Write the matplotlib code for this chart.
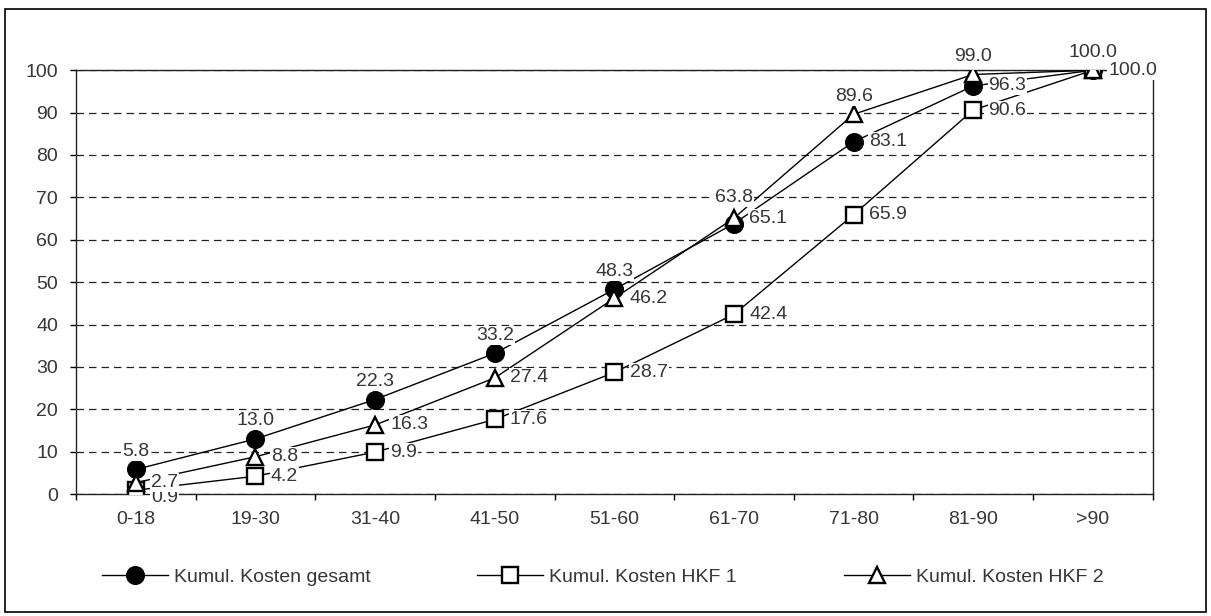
import matplotlib.pyplot as plt
from matplotlib.patches import Rectangle

plt.rcParams['font.family'] = ['Liberation Sans', 'DejaVu Sans']

categories = ["0-18", "19-30", "31-40", "41-50", "51-60", "61-70", "71-80", "81-90", ">90"]
gesamt = [5.8, 13.0, 22.3, 33.2, 48.3, 63.8, 83.1, 96.3, 100.0]
hkf1 = [0.9, 4.2, 9.9, 17.6, 28.7, 42.4, 65.9, 90.6, 100.0]
hkf2 = [2.7, 8.8, 16.3, 27.4, 46.2, 65.1, 89.6, 99.0, 100.0]

# where each value label sits: "a" = above the marker, "r" = right of it
pos_gesamt = ["a", "a", "a", "a", "a", "a", "r", "r", "a"]
pos_hkf1 = ["r"] * 9
pos_hkf2 = ["r", "r", "r", "r", "r", "r", "a", "a", "a"]

# small vertical nudges (points) for crowded labels
nudge = {("Kumul. Kosten gesamt", 5): 6, ("Kumul. Kosten HKF 1", 0): -5}

txt = "#363636"
fs = 14

fig = plt.figure(figsize=(12.11, 6.16), dpi=100)
ax = fig.add_axes([0.0628, 0.198, 0.889, 0.688])
fig.add_artist(Rectangle((0.004, 0.006), 0.992, 0.979, transform=fig.transFigure,
                         fill=False, edgecolor="black", linewidth=1.2))

x = list(range(len(categories)))
series = [
    ("Kumul. Kosten gesamt", gesamt, pos_gesamt, dict(marker="o", markerfacecolor="black")),
    ("Kumul. Kosten HKF 1", hkf1, pos_hkf1, dict(marker="s", markerfacecolor="white")),
    ("Kumul. Kosten HKF 2", hkf2, pos_hkf2, dict(marker="^", markerfacecolor="white")),
]

handles = []
for i, (name, vals, pos, style) in enumerate(series):
    h, = ax.plot(x, vals, color="black", linewidth=1.0, markersize=12,
                 markeredgecolor="black", markeredgewidth=1.7, label=name,
                 zorder=3 + i, **style)
    handles.append(h)
    for j, (xi, v, p) in enumerate(zip(x, vals, pos)):
        dy = nudge.get((name, j), 0)
        if p == "a":
            off, ha = (0, 13 + dy), "center"
        else:
            off, ha = (11, dy), "left"
        ax.annotate(f"{v:.1f}", (xi, v), xytext=off, textcoords="offset points",
                    ha=ha, va="center", fontsize=fs, color=txt, zorder=10,
                    bbox=dict(boxstyle="square,pad=0.05", fc="white", ec="none"),
                    annotation_clip=False)

ax.set_xlim(-0.5, len(categories) - 0.5)
ax.set_ylim(0, 100)
ax.set_yticks(range(0, 101, 10))
ax.set_xticks(x)
ax.set_xticklabels(categories)
ax.set_xticks([i - 0.5 for i in range(len(categories) + 1)], minor=True)
ax.tick_params(axis="x", which="major", length=0, pad=12, labelsize=fs, labelcolor=txt)
ax.tick_params(axis="x", which="minor", length=4, width=1, direction="out")
ax.tick_params(axis="y", length=4, width=1, pad=9, labelsize=fs, labelcolor=txt)
ax.yaxis.grid(True, linestyle=(0, (6, 4)), color="#222222", linewidth=0.9)
for s in ax.spines.values():
    s.set_linewidth(1.0)
    s.set_color("#222222")

fig.legend(handles=handles, loc="center left", bbox_to_anchor=(0.084, 0.063), ncol=3,
           frameon=False, fontsize=fs, handlelength=3.4, handletextpad=0.3,
           columnspacing=5.5, labelcolor=txt, borderpad=0, borderaxespad=0)

fig.savefig("out.png", dpi=100)
